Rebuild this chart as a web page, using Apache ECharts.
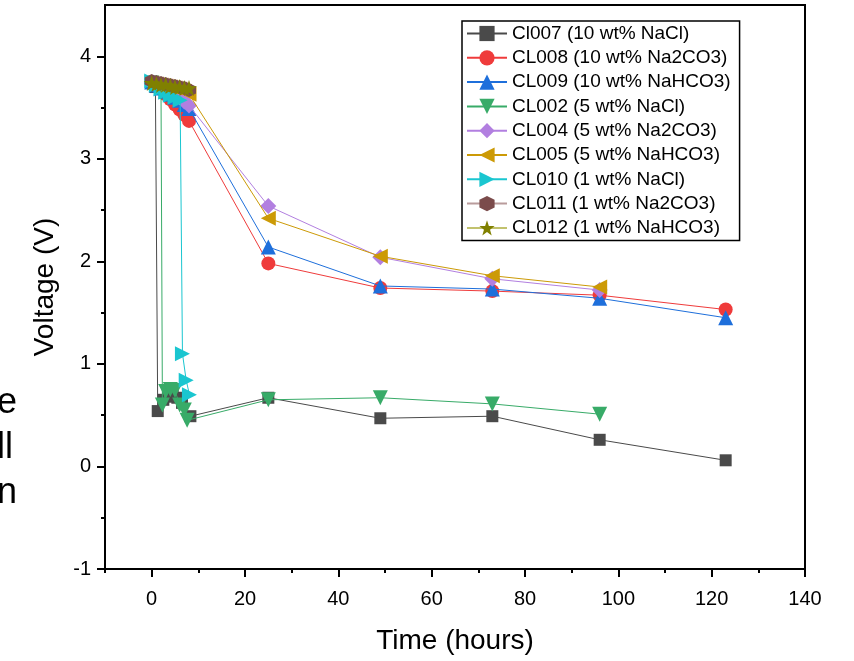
<!DOCTYPE html>
<html>
<head>
<meta charset="utf-8">
<script src="https://cdn.jsdelivr.net/npm/echarts@6/dist/echarts.min.js"></script>
<style>
html,body{margin:0;padding:0;background:#fff;}
#chart{width:854px;height:661px;}
</style>
</head>
<body>
<div id="chart"></div>
<script>
// ---- data ----
const seriesNames = [
  'Cl007 (10 wt% NaCl)', 'CL008 (10 wt% Na2CO3)', 'CL009 (10 wt% NaHCO3)',
  'CL002 (5 wt% NaCl)', 'CL004 (5 wt% Na2CO3)', 'CL005 (5 wt% NaHCO3)',
  'CL010 (1 wt% NaCl)', 'CL011 (1 wt% Na2CO3)', 'CL012 (1 wt% NaHCO3)'
];
const cl007Time = [0, 0.8, 1.3, 2.5, 3.5, 4.5, 5.5, 6.5, 8.3, 25, 49, 73, 96, 123];
const cl007Volt = [3.74, 3.70, 0.54, 0.65, 0.68, 0.69, 0.67, 0.62, 0.49, 0.67, 0.47, 0.49, 0.26, 0.06];
const cl008Time = [0, 1, 2, 3, 4, 5, 6, 7, 8, 25, 49, 73, 96, 123];
const cl008Volt = [3.74, 3.71, 3.68, 3.63, 3.58, 3.53, 3.48, 3.43, 3.37, 1.98, 1.74, 1.71, 1.67, 1.53];
const cl009Time = [0, 1, 2, 3, 4, 5, 6, 7, 8, 25, 49, 73, 96, 123];
const cl009Volt = [3.75, 3.72, 3.69, 3.66, 3.63, 3.60, 3.57, 3.53, 3.49, 2.14, 1.76, 1.73, 1.64, 1.45];
const cl002Time = [0, 1, 2, 2.3, 3, 4, 5, 6, 7, 7.6, 25, 49, 73, 96];
const cl002Volt = [3.74, 3.71, 3.68, 0.60, 0.73, 0.75, 0.74, 0.60, 0.55, 0.45, 0.65, 0.67, 0.61, 0.51];
const cl004Time = [0, 1, 2, 3, 4, 5, 6, 7, 8, 25, 49, 73, 96];
const cl004Volt = [3.74, 3.72, 3.70, 3.68, 3.66, 3.63, 3.60, 3.56, 3.52, 2.54, 2.04, 1.83, 1.72];
const cl005Time = [0, 1, 2, 3, 4, 5, 6, 7, 8, 25, 49, 73, 96];
const cl005Volt = [3.74, 3.73, 3.72, 3.71, 3.70, 3.69, 3.68, 3.66, 3.63, 2.42, 2.05, 1.86, 1.75];
const cl010Time = [0, 1, 2, 3, 4, 5, 6.1, 6.6, 7.4, 8.1];
const cl010Volt = [3.76, 3.72, 3.68, 3.65, 3.62, 3.60, 3.57, 1.10, 0.84, 0.70];
const cl011Time = [0, 1, 2, 3, 4, 5, 6, 7, 8];
const cl011Volt = [3.76, 3.75, 3.74, 3.73, 3.72, 3.71, 3.70, 3.69, 3.67];
const cl012Time = [0, 1, 2, 3, 4, 5, 6, 7, 8];
const cl012Volt = [3.74, 3.73, 3.72, 3.72, 3.71, 3.70, 3.70, 3.69, 3.69];

const xMajorTicks = [0, 20, 40, 60, 80, 100, 120, 140];
const xMinorTicks = [-10, 10, 30, 50, 70, 90, 110, 130];
const yMajorTicks = [-1, 0, 1, 2, 3, 4];
const yMinorTicks = [-0.5, 0.5, 1.5, 2.5, 3.5];

// ---- styling ----
const FONT = '"Liberation Sans", Arial, sans-serif';
const STAR = 'path://M0,-10 L2.35,-3.24 L9.51,-3.09 L3.8,1.24 L5.88,8.09 L0,4 L-5.88,8.09 L-3.8,1.24 L-9.51,-3.09 L-2.35,-3.24 Z';
const HEX = 'path://M0,-10 L8.66,-5 L8.66,5 L0,10 L-8.66,5 L-8.66,-5 Z';
const styles = [
  {c:'#4a4a4a', l:'#4a4a4a', sym:'rect', size:12, rot:0},
  {c:'#ef3b3b', l:'#ef3b3b', sym:'circle', size:14, rot:0},
  {c:'#1e6fdb', l:'#1e6fdb', sym:'triangle', size:15, rot:0},
  {c:'#38ab68', l:'#38ab68', sym:'triangle', size:15, rot:180},
  {c:'#b27fe0', l:'#b27fe0', sym:'diamond', size:16, rot:0},
  {c:'#cc9a06', l:'#cc9a06', sym:'triangle', size:15, rot:90},
  {c:'#1ac6d0', l:'#1ac6d0', sym:'triangle', size:15, rot:-90},
  {c:'#7b4b4b', l:'#b99c9c', sym:HEX, size:14, rot:0},
  {c:'#808000', l:'#c2c26e', sym:STAR, size:16, rot:0}
];
const times = [cl007Time, cl008Time, cl009Time, cl002Time, cl004Time, cl005Time, cl010Time, cl011Time, cl012Time];
const volts = [cl007Volt, cl008Volt, cl009Volt, cl002Volt, cl004Volt, cl005Volt, cl010Volt, cl011Volt, cl012Volt];

const series = seriesNames.map((name, i) => ({
  name: name,
  type: 'line',
  xAxisIndex: 0,
  yAxisIndex: 0,
  data: times[i].map((t, k) => [t, volts[i][k]]),
  symbol: styles[i].sym,
  symbolSize: styles[i].size,
  symbolRotate: styles[i].rot,
  showAllSymbol: true,
  itemStyle: {color: styles[i].c, opacity: 1},
  lineStyle: {color: styles[i].l, width: 1},
  emphasis: {disabled: true},
  z: 2 + i
}));

const axisLineStyle = {color: '#000', width: 2};
const chart = echarts.init(document.getElementById('chart'), null, {renderer: 'canvas'});
chart.setOption({
  animation: false,
  backgroundColor: '#fff',
  textStyle: {fontFamily: FONT},
  grid: {left: 105, right: 49, top: 5, bottom: 92, show: true, borderColor: '#000', borderWidth: 2, backgroundColor: 'transparent'},
  xAxis: [
    {
      type: 'value', min: -10, max: 140, position: 'bottom',
      name: 'Time (hours)', nameLocation: 'middle', nameGap: 58,
      nameTextStyle: {fontSize: 28, color: '#000', fontFamily: FONT},
      axisLine: {show: true, onZero: false, lineStyle: axisLineStyle},
      axisTick: {show: true, customValues: xMajorTicks, length: 8, lineStyle: axisLineStyle},
      axisLabel: {show: true, customValues: xMajorTicks, fontSize: 20, color: '#000', margin: 20, fontFamily: FONT},
      splitLine: {show: false}
    },
    {
      type: 'value', min: -10, max: 140, position: 'bottom',
      axisLine: {show: false, onZero: false},
      axisTick: {show: true, customValues: xMinorTicks, length: 4, lineStyle: axisLineStyle},
      axisLabel: {show: false},
      splitLine: {show: false}
    }
  ],
  yAxis: [
    {
      type: 'value', min: -1, max: 4.5, position: 'left',
      name: 'Voltage (V)', nameLocation: 'middle', nameGap: 46,
      nameTextStyle: {fontSize: 28, color: '#000', fontFamily: FONT},
      axisLine: {show: true, onZero: false, lineStyle: axisLineStyle},
      axisTick: {show: true, customValues: yMajorTicks, length: 8, lineStyle: axisLineStyle},
      axisLabel: {show: true, customValues: yMajorTicks, fontSize: 20, color: '#000', margin: 14, fontFamily: FONT},
      splitLine: {show: false}
    },
    {
      type: 'value', min: -1, max: 4.5, position: 'left',
      axisLine: {show: false, onZero: false},
      axisTick: {show: true, customValues: yMinorTicks, length: 4, lineStyle: axisLineStyle},
      axisLabel: {show: false},
      splitLine: {show: false}
    }
  ],
  legend: {
    show: true, orient: 'vertical', left: 462, top: 21,
    data: seriesNames,
    itemWidth: 40, itemHeight: 19, itemGap: 5.3,
    padding: [3, 9, 3, 4],
    backgroundColor: '#fff', borderColor: '#000', borderWidth: 1.5, borderRadius: 0,
    textStyle: {fontSize: 19, lineHeight: 19, color: '#000', fontFamily: FONT},
    selectedMode: false
  },
  graphic: [
    {type: 'text', x: 17, y: 385, style: {text: 'e', font: '36px ' + FONT, fill: '#000', textAlign: 'right'}},
    {type: 'text', x: 13, y: 430, style: {text: 'll', font: '36px ' + FONT, fill: '#000', textAlign: 'right'}},
    {type: 'text', x: 17, y: 475, style: {text: 'n', font: '36px ' + FONT, fill: '#000', textAlign: 'right'}}
  ],
  series: series
});
</script>
</body>
</html>
